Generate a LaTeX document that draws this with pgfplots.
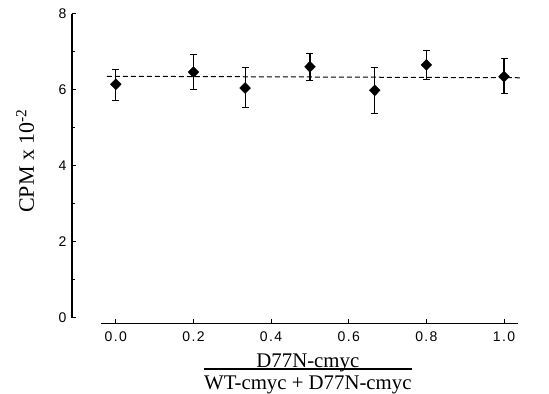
\documentclass[border=0pt]{standalone}
\usepackage{fontspec}
\setmainfont{Liberation Serif}
\newfontfamily\tickfont[LetterSpace=10]{Liberation Sans}
\usepackage{pgfplots}
\pgfplotsset{compat=1.18}
\pgfplotstableread{
x      y     ep    em
0.0    6.15  0.38  0.42
0.2    6.47  0.46  0.47
0.333  6.05  0.53  0.52
0.5    6.61  0.34  0.37
0.667  5.99  0.59  0.60
0.8    6.66  0.38  0.38
1.0    6.35  0.48  0.45
}\datatable
\begin{document}
\begin{tikzpicture}
\begin{axis}[
  name=ax,
  scale only axis,
  width=455.3bp, height=309.3bp,
  xmin=-0.113, xmax=1.06, ymin=-0.148, ymax=8,
  clip=false,
  axis line style={draw=none},
  xtick={0,0.2,0.4,0.6,0.8,1},
  xticklabels={0.0,0.2,0.4,0.6,0.8,1.0},
  ytick={0,2,4,6,8}, minor ytick={1,3,5,7},
  xtick pos=bottom, ytick pos=left,
  tick align=inside,
  major tick length=4.5bp, minor tick length=3bp,
  every tick/.style={black, line width=1bp},
  every tick label/.append style={font=\tickfont\fontsize{14bp}{16bp}\selectfont},
  /pgf/number format/assume math mode=true,
  xticklabel style={yshift=-5bp},
  yticklabel style={xshift=-2bp},
  ylabel={CPM x 10\textsuperscript{-2}},
  ylabel style={at={(axis description cs:-0.103,0.525)}, anchor=center, font=\fontsize{22bp}{26bp}\selectfont},
  xlabel={\setlength{\arrayrulewidth}{1.2bp}\begin{tabular}{@{}c@{}}D77N-cmyc\\[-6.2bp]\hline\rule{0pt}{20bp}WT-cmyc + D77N-cmyc\end{tabular}},
  xlabel style={at={(axis description cs:0.518,0)}, anchor=north, inner sep=0pt, yshift=-27bp, font=\fontsize{20.8bp}{24bp}\selectfont},
]
\addplot[black, line width=1bp, dash pattern=on 5bp off 3bp] coordinates {(-0.023,6.36) (1.048,6.32)};
\addplot[only marks, black, mark=diamond*, mark size=5.5bp,
  mark options={xscale=1.3, fill=black},
  error bars/.cd, y dir=both, y explicit,
  error bar style={line width=1.2bp, black},
  error mark options={rotate=90, mark size=3.5bp, line width=1bp, black}]
  table[x=x, y=y, y error plus=ep, y error minus=em] {\datatable};
\draw[line width=1.5bp] (axis cs:-0.113,0) -- (axis cs:-0.113,8);
\draw[line width=1.5bp] (axis cs:-0.037,-0.148) -- (axis cs:1.036,-0.148);
\end{axis}
\pgfresetboundingbox
\path[use as bounding box] ([shift={(-72bp,-70.7bp)}]ax.south west) rectangle ([shift={(21.7bp,14bp)}]ax.north east);
\end{tikzpicture}
\end{document}
